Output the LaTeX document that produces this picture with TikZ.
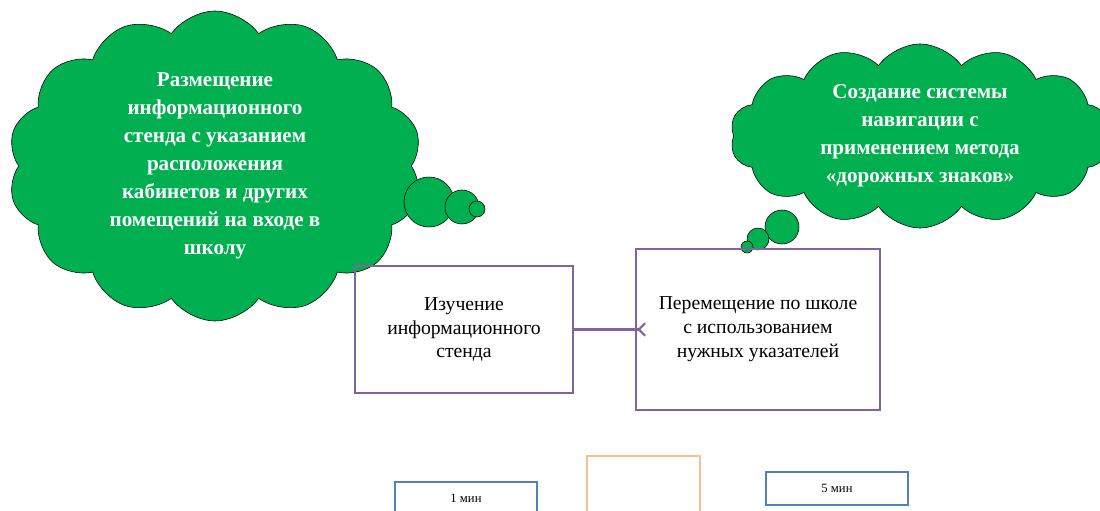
\documentclass[tikz,border=0pt]{standalone}
\usepackage{fontspec}
\setmainfont{Liberation Serif}
\usetikzlibrary{shapes.symbols,arrows.meta,positioning}
\definecolor{cloudgreen}{RGB}{0,176,80}
\definecolor{boxpurple}{RGB}{128,100,162}
\definecolor{boxblue}{RGB}{79,129,189}
\definecolor{boxorange}{RGB}{250,192,144}
\tikzset{
  >=latex,
}
\tikzstyle{idea}=[cloud,cloud puffs=14,cloud puff arc=110,cloud ignores aspect,draw=black,fill=cloudgreen,text=white,align=center,inner sep=0pt,font=\fontsize{15}{20}\selectfont\bfseries]
\tikzstyle{bubble}=[draw=black,fill=cloudgreen]
\tikzstyle{stage}=[draw=boxpurple,line width=1.5pt,align=center,font=\fontsize{14}{17}\selectfont]
\tikzstyle{timer}=[draw=boxblue,line width=1.8pt,minimum width=3.55cm,minimum height=.825cm,font=\fontsize{9}{11}\selectfont]
\tikzstyle{link}=[boxpurple,line width=1.5pt]

\begin{document}
\begin{tikzpicture}
\useasboundingbox (0,0) rectangle (27.5,12.75);
% thought clouds
\node[idea,minimum width=10.35cm,minimum height=7.75cm] (stand) at (5.375,8.6) {Размещение\\информационного\\стенда с указанием\\расположения\\кабинетов и других\\помещений на входе в\\школу};
\draw[bubble] (10.725,7.7) circle (.625);
\draw[bubble] (11.55,7.575) circle (.425);
\draw[bubble] (11.925,7.525) circle (.2);
\node[idea,minimum width=9.5cm,minimum height=4.6cm] (signs) at (23,9.35) {Создание системы\\навигации с\\применением метода\\«дорожных знаков»};
\draw[bubble] (19.55,7.075) circle (.425);
\draw[bubble] (18.95,6.775) circle (.275);
\draw[bubble] (18.675,6.575) circle (.15);
% steps
\node[stage,minimum width=5.45cm,minimum height=3.175cm] (study) at (11.6,4.5125) {Изучение\\информационного\\стенда};
\node[stage,minimum width=6.1cm,minimum height=4.025cm] (move) at (18.95,4.5125) {Перемещение по школе\\с использованием\\нужных указателей};
\draw[link,-{Straight Barb[reversed,sep=-8pt]}] (study) -- (move);
% times
\node[timer] (one) at (11.65,.2875) {1 мин};
\node[draw=boxorange,line width=1.5pt,minimum width=2.825cm,minimum height=2cm] (gap) at (16.09,.35) {};
\node[timer] (five) at (20.925,.5375) {5 мин};
\end{tikzpicture}
\end{document}
